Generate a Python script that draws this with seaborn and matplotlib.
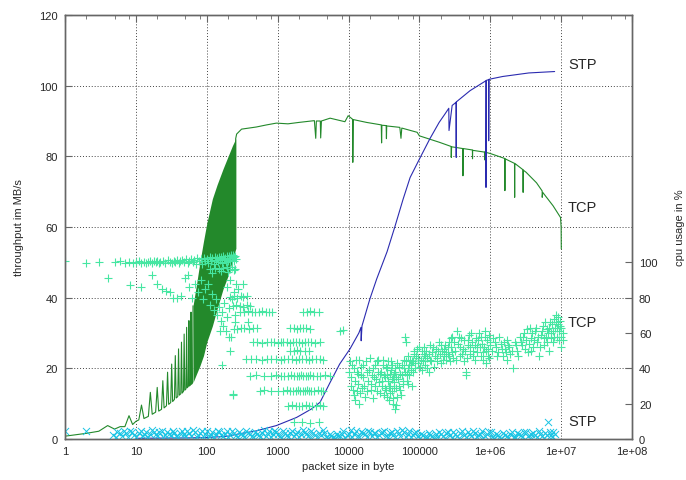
import numpy as np
import pandas as pd
import seaborn as sns
import matplotlib.pyplot as plt
from matplotlib.ticker import LogLocator, NullFormatter

# throughput of TCP for small packets (sawtooth part), (packet size, MB/s)
tcp_saw = [(1, 0.8), (2, 1.6), (3, 2.2), (4, 3.8), (5, 2.8), (6, 3.5), (7, 3.5), (8, 6.6),
           (9, 4.1), (10, 5.0), (11, 5.4), (12, 9.6), (13, 5.8), (15, 6.4), (16, 13.2),
           (17, 7.0), (19, 7.6), (20, 14.6), (21, 7.9), (23, 8.4), (24, 16.5), (25, 8.8),
           (27, 9.4), (28, 18.9), (29, 9.8), (31, 10.3), (32, 21.2), (33, 10.6), (35, 11.2),
           (36, 23.6), (37, 11.6), (39, 12.0), (40, 25.5), (41, 12.4), (43, 12.8), (44, 27.4),
           (45, 13.0), (47, 13.5), (48, 29.7), (49, 13.8), (51, 14.2), (52, 31.6), (53, 14.5),
           (55, 14.9), (56, 33.5), (57, 15.0), (59, 15.3), (60, 35.9), (61, 15.5), (63, 15.9),
           (64, 37.7)]

# dense oscillating region: (packet size, lower MB/s, upper MB/s)
tcp_band = [(64, 16.0, 37.7), (72, 18.5, 44.0), (80, 20.7, 50.0), (90, 23.6, 56.0),
            (100, 27.4, 61.0), (120, 32.0, 68.0), (140, 36.8, 72.0), (170, 42.5, 76.5),
            (200, 46.2, 80.0), (230, 50.5, 83.0), (256, 53.8, 85.0)]

tcp_big = [(256, 53.8), (256, 85.0), (264, 86.3), (310, 87.7), (500, 88.3), (700, 88.9),
           (960, 89.4), (1400, 89.2), (2000, 89.6), (3300, 90.1), (3450, 85.1), (3520, 90.0),
           (4000, 90.0), (4050, 85.2), (4150, 90.0), (5500, 90.8), (8900, 89.8), (9900, 91.5),
           (11400, 90.5), (11500, 78.3), (11700, 90.4), (18000, 89.6), (29000, 88.9),
           (29300, 83.8), (29600, 88.8), (34000, 88.7), (34300, 85.0), (34600, 88.6),
           (53000, 88.2), (55000, 85.1), (56500, 88.0), (93000, 86.8), (100000, 85.8),
           (190000, 84.0), (280000, 82.8), (282000, 79.7), (285000, 82.7), (410000, 82.2),
           (412000, 74.5), (415000, 82.2), (560000, 81.8), (562000, 79.3), (565000, 81.7),
           (830000, 81.2), (832000, 79.0), (835000, 81.2), (1000000, 80.8), (1600000, 79.4),
           (1610000, 70.3), (1620000, 79.3), (2200000, 78.0), (2210000, 68.4), (2220000, 78.0),
           (2900000, 76.2), (2910000, 69.8), (2920000, 76.1), (3200000, 75.5), (4500000, 72.5),
           (5400000, 70.2), (5410000, 68.4), (5500000, 69.8), (7700000, 66.0), (9800000, 62.7),
           (10000000, 60.0), (10050000, 53.8)]

stp_thr = [(10, 0.2), (50, 0.3), (100, 0.4), (200, 0.8), (277, 1.4), (500, 2.3), (960, 3.8),
           (1850, 6.1), (3000, 8.5), (3970, 10.4), (5500, 16.0), (7500, 21.2), (10500, 25.5),
           (14000, 30.0), (15000, 31.6), (15100, 27.8), (15500, 32.0), (20000, 39.6),
           (25000, 45.3), (35000, 53.0), (45000, 60.0), (59000, 67.9), (74000, 74.0),
           (100000, 79.2), (140000, 84.9), (190000, 89.6), (230000, 92.0), (260000, 93.6),
           (262000, 87.3), (290000, 94.4), (330000, 95.3), (331000, 79.7), (332000, 95.4),
           (520000, 98.6), (870000, 101.4), (871000, 71.2), (880000, 101.5), (950000, 101.7),
           (951000, 84.4), (960000, 101.8), (1500000, 102.6), (3500000, 103.6), (8100000, 104.0)]

# cpu usage of TCP in %
tcp_cpu = [
    (1, 100.5), (2, 99.5), (3, 100.2), (5, 100.0), (6, 100.6), (7, 99.8), (8, 100.3), (9, 99.6),
    (10, 100.1), (11, 100.8), (12, 99.9), (13, 100.4), (14, 99.7), (15, 100.2), (16, 100.9),
    (17, 99.8), (18, 100.5), (19, 100.0), (20, 101.0), (21, 99.6), (22, 100.3), (24, 100.7),
    (26, 99.9), (28, 101.2), (30, 100.4), (32, 99.5), (34, 101.0), (36, 100.2), (38, 101.5),
    (40, 99.8), (42, 100.6), (45, 101.3), (48, 100.0), (51, 101.8), (54, 99.4), (57, 100.9),
    (60, 102.0), (63, 100.3), (66, 101.4), (70, 99.2), (74, 102.2), (78, 100.6), (82, 101.7),
    (86, 99.0), (90, 102.5), (95, 100.8), (100, 101.9), (105, 99.5), (110, 102.8), (115, 100.9),
    (120, 102.3), (125, 99.1), (130, 103.0), (135, 101.2), (140, 102.6), (145, 100.1),
    (150, 103.3), (155, 101.5), (160, 102.9), (165, 99.7), (170, 103.5), (175, 101.8),
    (180, 102.7), (185, 100.4), (190, 103.8), (195, 102.0), (200, 101.0), (205, 103.4),
    (210, 102.2), (215, 100.5), (220, 103.9), (225, 102.5), (230, 101.3), (235, 104.0),
    (240, 102.8), (245, 100.8), (250, 103.6), (255, 101.7),
    (110, 96.5), (130, 97.0), (150, 96.0), (170, 96.8), (190, 97.5), (210, 96.2), (230, 97.2),
    (250, 96.4), (120, 94.0), (160, 95.0), (200, 94.5), (240, 95.5),
    (4.1, 91), (8.3, 87), (11.8, 86), (16.7, 93), (19.6, 88), (23, 85), (27, 84), (30, 83),
    (33.7, 80), (38, 80), (43, 81), (49, 91), (54, 93), (57, 86), (62, 80), (68, 88), (75, 83),
    (82, 90), (88, 79), (95, 85), (105, 88), (112, 76), (118, 82), (126, 73), (133, 79),
    (141, 70), (148, 75), (153, 61), (158, 67), (165, 72), (172, 64), (178, 77), (186, 61),
    (194, 69), (203, 58), (208, 74), (211, 50), (162, 42), (236, 25), (222, 58), (240, 62),
    (250, 66), (228, 79), (245, 83), (190, 86), (215, 90), (255, 88),
    (280, 85), (320, 88), (250, 70), (380, 66), (233, 25.5),
    (213, 80.5), (240, 81), (270, 80), (300, 81), (330, 80.5), (364, 81),
    (233, 75.5), (260, 76), (290, 75.5), (330, 75), (370, 76), (406, 75.5),
    (294, 72), (340, 72), (380, 72.5), (430, 72), (480, 72), (540, 72), (600, 72.5), (680, 72),
    (760, 72), (820, 72), (2300, 72), (2600, 72), (2900, 72.5), (3300, 72), (3780, 72),
    (264, 62.5), (300, 63), (340, 62.7), (400, 62.5), (450, 63), (504, 62.7), (1500, 62.7),
    (1700, 63), (1900, 62.5), (2100, 62.7), (2300, 63), (2500, 62.7), (2850, 62.5), (7500, 61),
    (8300, 61.5),
    (450, 54.7), (520, 55), (600, 54.5), (700, 54.7), (800, 55), (900, 54.7), (1000, 54.5),
    (1100, 54.7), (1200, 55), (1350, 54.7), (1500, 54.5), (1650, 54.7), (1800, 55), (2000, 54.7),
    (2200, 54.5), (2400, 54.7), (2700, 55), (3000, 54.7), (3400, 54.5), (3960, 54.7),
    (1500, 50), (1700, 50), (1900, 50.3), (2100, 50), (2400, 49.8), (2800, 50),
    (360, 45.3), (420, 45.5), (500, 45.3), (600, 45), (700, 45.3), (800, 45.5), (950, 45.3),
    (1100, 45), (1250, 45.3), (1400, 45.5), (1600, 45.3), (1800, 45), (2000, 45.3), (2200, 45.5),
    (2500, 45.3), (2800, 45), (3100, 45.3), (3500, 45.5), (4000, 45.3), (4400, 45),
    (410, 35.9), (500, 36), (650, 35.8), (800, 35.9), (950, 36), (1100, 35.9), (1250, 35.8),
    (1400, 35.9), (1550, 36), (1700, 35.9), (1850, 35.8), (2000, 35.9), (2150, 36), (2300, 35.9),
    (2500, 35.8), (2700, 35.9), (2900, 36), (3200, 35.9), (3600, 35.8), (4000, 35.9), (4600, 36),
    (5500, 35.9),
    (560, 27.4), (650, 27.5), (800, 27.4), (1000, 27.3), (1200, 27.4), (1350, 27.5), (1500, 27.4),
    (1650, 27.3), (1800, 27.4), (1950, 27.5), (2100, 27.4), (2250, 27.3), (2400, 27.4),
    (2600, 27.5), (2800, 27.4), (3000, 27.3), (3300, 27.4), (3700, 27.5), (4100, 27.4),
    (4400, 27.3),
    (1400, 18.9), (1600, 19), (1800, 18.9), (2000, 18.8), (2200, 18.9), (2500, 19), (2800, 18.9),
    (3100, 18.8), (3500, 18.9), (3900, 19), (4400, 18.9),
    (1700, 9.4), (2200, 9.5), (2900, 9.3), (3800, 9.4),
    (10500, 44), (11000, 35), (11500, 28), (12000, 40), (12500, 22), (13000, 38), (13500, 31),
    (14000, 45), (14500, 26), (15000, 36), (16000, 42), (16500, 30), (17000, 24), (18000, 38),
    (19000, 33), (20000, 46), (21000, 28), (22000, 40), (23000, 35), (24000, 30), (25000, 44),
    (26000, 38), (27000, 32), (28000, 26),
    (10200, 38), (10800, 30), (11200, 42), (11800, 25), (12200, 33), (12800, 45), (13200, 27),
    (13800, 37), (14200, 20), (14800, 41), (15500, 29), (16200, 35), (17500, 44), (18500, 27),
    (19500, 39), (20500, 31), (21500, 36), (22500, 23), (23500, 42), (24500, 34), (25500, 27),
    (26500, 45), (27500, 37),
    (29000, 38), (30000, 30), (31000, 42), (32000, 25), (33000, 35), (34000, 28), (35000, 40),
    (36000, 33), (37000, 22), (38000, 37), (39000, 30), (40000, 44), (41000, 27), (42000, 35),
    (43000, 20), (44000, 32), (45000, 17), (46000, 38), (47000, 29), (48000, 24), (50000, 34),
    (52000, 41), (54000, 28), (56000, 36), (58000, 31), (60000, 45), (62000, 38), (63000, 58),
    (64000, 55), (66000, 33), (68000, 40), (70000, 47), (72000, 36), (75000, 42), (78000, 30),
    (80000, 38),
    (29500, 33), (30500, 45), (31500, 36), (32500, 29), (33500, 41), (34500, 24), (35500, 36),
    (36500, 44), (37500, 30), (38500, 26), (39500, 39), (40500, 34), (41500, 42), (42500, 23),
    (43500, 37), (44500, 29), (45500, 40), (46500, 19), (47500, 35), (49000, 43), (51000, 30),
    (53000, 37), (55000, 25), (57000, 42), (59000, 33), (61000, 40), (65000, 44), (67000, 37),
    (69000, 31), (71000, 42), (74000, 45), (77000, 39), (79000, 44),
    (82000, 44), (85000, 50), (88000, 40), (90000, 47), (95000, 43), (100000, 52), (105000, 45),
    (110000, 39), (115000, 48), (120000, 42), (125000, 50), (130000, 46), (135000, 38),
    (140000, 53), (145000, 44), (150000, 49), (160000, 41), (170000, 51), (180000, 46),
    (190000, 55), (200000, 43), (210000, 50), (220000, 47), (230000, 53), (240000, 45),
    (83000, 48), (87000, 43), (92000, 51), (97000, 46), (102000, 41), (108000, 50), (112000, 44),
    (118000, 52), (122000, 47), (128000, 40), (138000, 48), (142000, 45), (155000, 52),
    (165000, 47), (175000, 44), (185000, 50), (195000, 48), (205000, 53), (215000, 45),
    (225000, 51), (235000, 49),
    (250000, 48), (260000, 55), (270000, 44), (280000, 52), (290000, 58), (300000, 46),
    (320000, 50), (340000, 61), (350000, 54), (370000, 47), (390000, 57), (410000, 51),
    (430000, 44), (450000, 36), (460000, 38), (480000, 53), (500000, 59), (520000, 48),
    (550000, 55), (580000, 50), (600000, 45), (630000, 57), (660000, 52), (700000, 60),
    (730000, 47), (760000, 54), (800000, 49), (830000, 58), (860000, 43), (900000, 56),
    (930000, 51), (960000, 46), (1000000, 53),
    (255000, 52), (265000, 47), (275000, 57), (285000, 49), (310000, 55), (330000, 45),
    (360000, 58), (380000, 52), (400000, 48), (420000, 56), (440000, 50), (470000, 46),
    (490000, 56), (510000, 52), (540000, 60), (570000, 47), (610000, 53), (650000, 49),
    (680000, 56), (720000, 52), (750000, 58), (780000, 45), (820000, 52), (850000, 61),
    (880000, 50), (920000, 47), (950000, 59), (980000, 55),
    (1100000, 57), (1200000, 52), (1300000, 49), (1400000, 54), (1500000, 47), (1600000, 51),
    (1700000, 45), (1800000, 53), (1900000, 48), (2100000, 40), (2200000, 55), (2400000, 50),
    (2600000, 58),
    (1050000, 50), (1150000, 55), (1250000, 47), (1350000, 58), (1450000, 51), (1550000, 55),
    (1650000, 49), (1750000, 56), (1850000, 52), (2000000, 50), (2300000, 53), (2500000, 47),
    (2700000, 55),
    (2800000, 53), (3000000, 60), (3200000, 56), (3400000, 49), (3600000, 63), (3800000, 57),
    (4000000, 52), (4300000, 61), (4600000, 55), (4900000, 47), (5200000, 59), (5500000, 64),
    (5800000, 53), (6100000, 58), (6400000, 62), (6700000, 50), (7000000, 66), (7300000, 60),
    (7600000, 55), (7900000, 68), (8200000, 63), (8500000, 70), (8800000, 58), (9100000, 65),
    (9400000, 61), (9700000, 67), (10000000, 52), (10000000, 63), (10500000, 60), (10500000, 56),
    (2900000, 58), (3100000, 51), (3300000, 62), (3500000, 54), (3700000, 50), (3900000, 60),
    (4150000, 56), (4450000, 63), (4750000, 58), (5050000, 52), (5350000, 61), (5650000, 57),
    (5950000, 66), (6250000, 55), (6550000, 60), (6850000, 63), (7150000, 57), (7450000, 65),
    (7750000, 61), (8050000, 58), (8350000, 66), (8650000, 63), (8950000, 69), (9250000, 56),
    (9550000, 64), (9850000, 58),
]

# cpu usage of STP in %
stp_cpu = [
    (1, 4.7), (2, 4.7),
    (4.8, 2.5), (5.5, 4.0), (6.3, 1.8), (7.2, 3.2), (8.3, 4.5), (9.5, 2.0),
    (11, 3.6), (12.5, 1.5), (14, 4.2), (16, 2.8), (18, 3.9), (20, 1.7), (23, 4.4), (26, 2.3),
    (29, 3.1), (33, 4.8), (37, 1.9), (42, 3.5), (47, 2.6), (53, 4.3), (60, 1.6), (68, 3.8),
    (76, 2.2), (85, 4.6), (95, 3.0),
    (107, 1.8), (120, 4.1), (135, 2.7), (150, 3.7), (170, 1.5), (190, 4.4), (215, 2.4),
    (240, 3.3), (270, 1.2), (300, 2.9), (340, 0.9), (380, 3.4), (430, 1.6), (480, 4.0),
    (540, 2.2), (600, 3.6), (680, 1.8), (760, 4.3), (850, 2.6), (950, 3.9),
    (1070, 1.7), (1200, 4.5), (1350, 2.5), (1500, 3.5), (1700, 1.9), (1900, 4.2), (2150, 2.8),
    (2400, 3.8), (2700, 1.6), (3000, 4.4), (3400, 2.3), (3800, 3.2), (4300, 5.0), (4800, 1.2),
    (5400, 2.7), (6000, 1.0), (6800, 3.0), (7600, 1.5), (8500, 4.6), (9500, 2.4),
    (10700, 5.2), (12000, 3.1), (13500, 1.9), (15000, 3.9), (17000, 2.6), (19000, 4.3),
    (21500, 1.7), (24000, 3.6), (27000, 2.2), (30000, 4.1), (34000, 1.8), (38000, 3.4),
    (43000, 2.5), (48000, 4.4), (54000, 1.6), (60000, 3.7), (68000, 2.9), (76000, 1.3),
    (85000, 3.2), (95000, 1.8),
    (107000, 2.8), (120000, 1.1), (135000, 3.5), (150000, 1.9), (170000, 2.6), (190000, 4.0),
    (215000, 1.5), (240000, 3.3), (270000, 2.1), (300000, 4.2), (340000, 1.7), (380000, 3.6),
    (430000, 2.4), (480000, 4.1), (540000, 1.6), (600000, 3.4), (680000, 2.5), (760000, 4.3),
    (850000, 1.9), (950000, 3.8),
    (1070000, 1.4), (1200000, 2.9), (1350000, 1.0), (1500000, 3.6), (1700000, 1.8),
    (1900000, 2.7), (2150000, 1.2), (2400000, 3.2), (2700000, 2.0), (3000000, 4.0),
    (3400000, 1.5), (3800000, 3.1), (4300000, 2.2), (4800000, 4.4), (5400000, 1.7),
    (6000000, 3.5), (6600000, 9.4), (7200000, 2.4), (7800000, 3.9),
    (5.2, 1.2), (5.9, 3.3), (6.8, 4.8), (7.8, 1.0), (8.9, 3.7), (10, 1.3), (11.8, 4.6),
    (13.2, 2.9), (15, 1.1), (17, 4.9), (19, 2.6), (21.5, 3.8), (24.5, 1.4), (27.5, 4.0),
    (31, 2.0), (35, 3.5), (39.5, 1.2), (44.5, 4.5), (50, 1.9), (56.5, 3.2), (64, 4.9), (72, 1.3),
    (80, 3.4), (90, 1.1), (101, 4.8), (113, 2.2), (127, 1.0), (142, 4.7), (160, 2.0), (180, 3.0),
    (202, 1.0), (227, 4.6), (255, 2.0), (285, 3.9), (320, 2.1), (360, 4.4), (405, 3.0),
    (455, 0.9), (510, 3.0), (570, 1.0), (640, 4.9), (720, 3.1), (800, 1.2), (900, 4.8),
    (1010, 2.9), (1130, 0.8), (1270, 3.6), (1420, 1.1), (1600, 4.8), (1800, 3.0), (2020, 0.9),
    (2270, 4.9), (2550, 2.9), (2850, 0.8), (3200, 3.4), (3600, 1.0), (4050, 2.5), (4550, 3.6),
    (5100, 0.6), (5700, 1.9), (6400, 0.5), (7200, 1.8), (8000, 3.0), (9000, 0.6),
    (10100, 3.0), (11300, 1.2), (12700, 4.6), (14200, 1.0), (16000, 3.4), (18000, 1.1),
    (20200, 4.2), (22700, 3.2), (25500, 0.9), (28500, 3.4), (32000, 4.8), (36000, 1.0),
    (40500, 4.2), (45500, 1.1), (51000, 3.2), (57000, 4.9), (64000, 1.0), (72000, 4.4),
    (80000, 2.1), (90000, 3.9), (101000, 0.6), (113000, 2.5), (127000, 0.9), (142000, 2.4),
    (160000, 0.5), (180000, 1.4), (202000, 3.1), (227000, 0.6), (255000, 3.7), (285000, 0.8),
    (320000, 2.8), (360000, 0.7), (405000, 4.3), (455000, 1.0), (510000, 2.9), (570000, 4.6),
    (640000, 0.9), (720000, 2.7), (800000, 0.8), (900000, 2.8), (1010000, 4.0), (1130000, 0.6),
    (1270000, 2.0), (1420000, 0.7), (1600000, 2.3), (1800000, 0.6), (2020000, 3.7),
    (2270000, 0.9), (2550000, 2.6), (2850000, 1.0), (3200000, 3.7), (3600000, 0.8),
    (4050000, 3.6), (4550000, 0.9), (5100000, 2.9), (5700000, 0.8), (6300000, 2.0),
    (6900000, 4.1), (7500000, 1.0), (8100000, 2.6),
]

x_ticks = [1, 10, 100, 1000, 10000, 100000, 1e6, 1e7, 1e8]
x_labels = ['1', '10', '100', '1000', '10000', '100000', '1e+06', '1e+07', '1e+08']

GREEN = '#23892b'
BLUE = '#2b2bb0'
MINT = '#46e6a2'
CYAN = '#18c4e4'
FRAME = '#666666'

sns.set_style('white')
plt.rcParams['font.family'] = ['Liberation Sans', 'DejaVu Sans']

df_saw = pd.DataFrame(tcp_saw, columns=['size', 'mbs'])
df_band = pd.DataFrame(tcp_band, columns=['size', 'lo', 'hi'])
df_big = pd.DataFrame(tcp_big, columns=['size', 'mbs'])
df_stp = pd.DataFrame(stp_thr, columns=['size', 'mbs'])
df_tcp_cpu = pd.DataFrame(tcp_cpu, columns=['size', 'cpu'])
df_stp_cpu = pd.DataFrame(stp_cpu, columns=['size', 'cpu'])

box = [65 / 686, 41 / 481, 567 / 686, 424 / 481]
fig, ax = plt.subplots(figsize=(6.86, 4.81), dpi=100)
ax2 = ax.twinx()
ax.set_position(box)
ax2.set_position(box)

ax.set_xscale('log')
ax.set_xlim(1, 1e8)
ax.set_ylim(0, 120)

ax.fill_between(df_band['size'], df_band['lo'], df_band['hi'], color=GREEN, lw=0, zorder=2)
sns.lineplot(data=df_saw, x='size', y='mbs', sort=False, estimator=None, color=GREEN, lw=0.8, ax=ax)
sns.lineplot(data=df_big, x='size', y='mbs', sort=False, estimator=None, color=GREEN, lw=0.8, ax=ax)
sns.lineplot(data=df_stp, x='size', y='mbs', sort=False, estimator=None, color=BLUE, lw=0.8, ax=ax)

sns.scatterplot(data=df_tcp_cpu, x='size', y='cpu', marker='+', s=38, color=MINT, linewidth=0.8,
                legend=False, ax=ax2)
sns.scatterplot(data=df_stp_cpu, x='size', y='cpu', marker='x', s=26, color=CYAN, linewidth=0.7,
                legend=False, ax=ax2)
ax2.set_ylim(0, 240)
ax.set_xlim(1, 1e8)

ax.set_xticks(x_ticks)
ax.set_xticklabels(x_labels)
ax.xaxis.set_minor_locator(LogLocator(base=10, subs=(2.0, 5.0, 8.0)))
ax.xaxis.set_minor_formatter(NullFormatter())
ax.set_yticks([0, 20, 40, 60, 80, 100, 120])
ax2.set_yticks([0, 20, 40, 60, 80, 100])

ax.grid(True, which='major', color='#444444', linestyle=(0, (1, 2)), linewidth=0.7)
ax.set_axisbelow(True)
ax2.grid(False)

ax.tick_params(axis='both', which='both', direction='in', top=True, right=False,
               labelsize=8, pad=5, color=FRAME)
ax.tick_params(which='major', length=5)
ax.tick_params(which='minor', length=3)
ax2.tick_params(axis='y', direction='in', length=5, labelsize=8, pad=5, color=FRAME)

for a in (ax, ax2):
    for sp in a.spines.values():
        sp.set_color(FRAME)
        sp.set_linewidth(1.0)

ax.set_xlabel('packet size in byte', fontsize=8)
ax.set_ylabel('throughput im MB/s', fontsize=8)
ax2.set_ylabel('cpu usage in %', fontsize=8, rotation=90)
ax.xaxis.set_label_coords(0.5, -0.052)
ax.yaxis.set_label_coords(-0.072, 0.5)
ax2.yaxis.set_label_coords(1.076, 0.5)
ax2.yaxis.label.set_verticalalignment('top')

for label, yy in [('STP', 0.884), ('TCP', 0.547), ('TCP', 0.275), ('STP', 0.043)]:
    ax.text(0.887, yy, label, transform=ax.transAxes, fontsize=10.5, va='center', ha='left')

fig.savefig('out.png', dpi=100)
